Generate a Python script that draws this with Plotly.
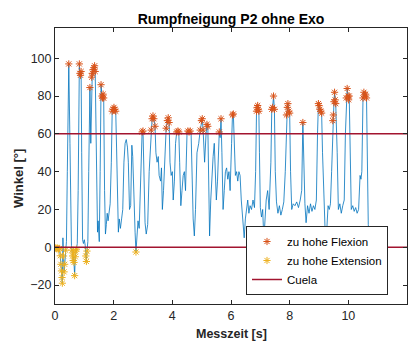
import plotly.graph_objects as go

# ---- data ----
time_s = [
    0.00, 0.03, 0.06, 0.09, 0.12, 0.15, 0.18, 0.20, 0.22, 0.24, 0.25, 0.27, 0.29, 0.31, 0.33, 0.36, 0.39, 0.42,
    0.47, 0.51, 0.54, 0.56, 0.58, 0.60, 0.62, 0.63, 0.65, 0.67, 0.69, 0.71, 0.73, 0.76, 0.79, 0.83, 0.85, 0.87,
    0.89, 0.91, 0.94, 0.97, 1.00, 1.03, 1.05, 1.07, 1.09, 1.12, 1.15, 1.19, 1.22, 1.25, 1.27, 1.30, 1.33, 1.35,
    1.37, 1.40, 1.42, 1.45, 1.47, 1.49, 1.51, 1.54, 1.57, 1.60, 1.62, 1.64, 1.66, 1.69, 1.72, 1.75, 1.78, 1.81,
    1.84, 1.88, 1.92, 1.95, 1.98, 2.01, 2.04, 2.07, 2.10, 2.13, 2.16, 2.19, 2.23, 2.27, 2.31, 2.35, 2.39, 2.43,
    2.47, 2.50, 2.54, 2.58, 2.62, 2.65, 2.69, 2.73, 2.76, 2.79, 2.83, 2.87, 2.92, 2.97, 3.00, 3.03, 3.07, 3.11,
    3.16, 3.21, 3.28, 3.31, 3.34, 3.37, 3.41, 3.44, 3.48, 3.52, 3.55, 3.60, 3.63, 3.66, 3.70, 3.75, 3.79, 3.83,
    3.86, 3.89, 3.92, 3.96, 4.00, 4.03, 4.07, 4.11, 4.15, 4.19, 4.22, 4.25, 4.29, 4.33, 4.37, 4.41, 4.45, 4.50,
    4.53, 4.57, 4.61, 4.64, 4.67, 4.71, 4.75, 4.79, 4.84, 4.90, 4.95, 4.99, 5.02, 5.05, 5.10, 5.15, 5.18, 5.21,
    5.24, 5.27, 5.31, 5.35, 5.39, 5.43, 5.46, 5.50, 5.54, 5.60, 5.63, 5.66, 5.69, 5.73, 5.77, 5.81, 5.85, 5.89,
    5.93, 5.97, 6.02, 6.05, 6.08, 6.11, 6.15, 6.19, 6.23, 6.27, 6.31, 6.35, 6.40, 6.45, 6.49, 6.53, 6.57, 6.61,
    6.65, 6.70, 6.75, 6.80, 6.84, 6.87, 6.89, 6.91, 6.93, 6.95, 6.97, 7.00, 7.04, 7.08, 7.12, 7.16, 7.20, 7.25,
    7.30, 7.36, 7.39, 7.42, 7.45, 7.48, 7.51, 7.55, 7.60, 7.65, 7.70, 7.75, 7.80, 7.85, 7.89, 7.92, 7.94, 7.97,
    8.00, 8.03, 8.07, 8.12, 8.18, 8.24, 8.30, 8.36, 8.41, 8.45, 8.48, 8.52, 8.56, 8.61, 8.66, 8.71, 8.76, 8.81,
    8.86, 8.91, 8.95, 8.98, 9.00, 9.03, 9.06, 9.09, 9.12, 9.17, 9.21, 9.24, 9.27, 9.31, 9.35, 9.39, 9.43, 9.47,
    9.49, 9.51, 9.53, 9.55, 9.57, 9.62, 9.66, 9.71, 9.76, 9.81, 9.86, 9.90, 9.93, 9.96, 9.99, 10.01, 10.03,
    10.06, 10.10, 10.15, 10.20, 10.25, 10.30, 10.35, 10.40, 10.43, 10.46, 10.50, 10.53, 10.56, 10.59, 10.62,
    10.65, 10.68, 10.71,
]
angle_deg = [
    -0.5, -0.3, -0.8, -0.4, -1.0, -0.6, -4.5, -9, -12.5, -16, -19, 5, -4.6, -13, -9, -1.5, 3, 40,
    97, 55, 4, 1, -1.5, -4.6, -7, -3, -8, -15, -5, -2, -1, 2, 30, 97, 92, 91,
    93, 50, 4, 2, 4, 1, -4.6, -7.5, -2, 3, 40, 84.5, 55, 90, 92, 94, 95, 96,
    93, 50, 15, 8, 14, 10, 3, 40, 86, 80, 79, 81, 79, 30, 7, 12, 18, 14,
    20, 23, 45, 72, 73, 74, 73, 72, 52, 20, 8, 15, 10, 15, 20, 45, 55, 57,
    53, 45, 20, 22, 54, 48, 21, 8, -2.5, 8, 14, 10, 40, 61, 61.5, 45, 13, 7,
    12, 40, 62, 68, 69.5, 68, 64, 50, 45, 48, 38, 35, 42, 20, 30, 55, 63, 67,
    68.5, 66, 45, 38, 40, 25, 35, 55, 61, 61.5, 61, 45, 22, 30, 38, 40, 30, 60,
    61.5, 61, 61.5, 60, 40, 15, 6, 20, 50, 55, 62, 67, 68, 62, 45, 60, 65, 64,
    30, 6, 25, 40, 48, 55, 40, 25, 35, 61, 58, 68, 50, 20, 30, 40, 42, 36,
    40, 30, 55, 70, 70.5, 50, 38, 40, 35, 40, 38, 25, 15, 5, 15, 20, 25, 18,
    22, 20, 25, 21, 40, 72, 74, 75, 73, 72, 50, 21, 16, 20, 4, 18, 25, 30,
    20, 45, 73, 74, 80, 73, 40, 24, 18, 22, 17, 20, 24, 40, 70, 74, 76, 72,
    71, 40, 20, 23, 22, 24, 21, 25, 30, 66, 40, 23, 13, 22, 18, 23, 19, 22,
    20, 25, 60, 76, 75, 73, 72, 71, 50, 20, 8, 2, 12, 22, 20, 23, 40, 67,
    70, 77, 82, 78, 76, 50, 20, 23, 18, 22, 25, 60, 79, 84, 80, 78, 80,
    40, 20, 22, 19, 21, 18, 20, 38, 36, 40, 79, 82, 80, 81, 79,
    30, 12, 7,
]
cuela_levels = [0, 60]
flex_threshold = 60
ext_threshold = 0
x_ticks = [0, 2, 4, 6, 8, 10, 12]
y_ticks = [-20, 0, 20, 40, 60, 80, 100]
x_range = [0, 12]
y_range = [-30, 116]

flex_t = [t for t, v in zip(time_s, angle_deg) if v > flex_threshold]
flex_v = [v for v in angle_deg if v > flex_threshold]
ext_t = [t for t, v in zip(time_s, angle_deg) if v < ext_threshold]
ext_v = [v for v in angle_deg if v < ext_threshold]

cuela_x, cuela_y = [], []
for lvl in cuela_levels:
    cuela_x += [x_range[0], x_range[1], None]
    cuela_y += [lvl, lvl, None]

FONT = "Liberation Sans, Arial, Helvetica, sans-serif"
AX = "#262626"

fig = go.Figure()
fig.add_trace(go.Scatter(x=time_s, y=angle_deg, mode="lines",
                         line=dict(color="#0072BD", width=0.8), showlegend=False,
                         hoverinfo="skip"))
fig.add_trace(go.Scatter(x=flex_t, y=flex_v, mode="markers", name="zu hohe Flexion",
                         marker=dict(symbol="asterisk-open", size=6, color="#D95319",
                                     line=dict(color="#D95319", width=1))))
fig.add_trace(go.Scatter(x=ext_t, y=ext_v, mode="markers", name="zu hohe Extension",
                         marker=dict(symbol="asterisk-open", size=6, color="#EDB120",
                                     line=dict(color="#EDB120", width=1))))
fig.add_trace(go.Scatter(x=cuela_x, y=cuela_y, mode="lines", name="Cuela",
                         line=dict(color="#A2142F", width=1.5)))

axis_common = dict(showline=True, linecolor=AX, linewidth=1, mirror="ticks",
                   ticks="inside", ticklen=4, tickcolor=AX, tickwidth=1,
                   showgrid=False, zeroline=False,
                   tickfont=dict(family=FONT, size=12.5, color=AX))

fig.update_layout(
    width=411, height=343, autosize=False,
    margin=dict(l=55, r=4, t=28, b=39, pad=0),
    paper_bgcolor="white", plot_bgcolor="white",
    font=dict(family=FONT, color=AX),
    title=dict(text="Rumpfneigung P2 ohne Exo", x=(55 + 407) / 2 / 411, xanchor="center",
               y=1 - 19 / 343, yanchor="middle", yref="container",
               font=dict(family=FONT, size=14, color="black", weight="bold")),
    xaxis=dict(range=x_range, tickvals=x_ticks, **axis_common),
    yaxis=dict(range=y_range, tickvals=y_ticks, **axis_common),
    legend=dict(x=(388 - 55) / 352, y=(304 - 295) / 276, xanchor="right", yanchor="bottom",
                bgcolor="white", bordercolor="#262626", borderwidth=1,
                font=dict(family=FONT, size=11.5, color="black"), tracegroupgap=0,
                itemwidth=30),
    annotations=[
        dict(text="Messzeit [s]", x=0.5, y=(304 - 334) / 276, xref="paper", yref="paper",
             xanchor="center", yanchor="middle", showarrow=False,
             font=dict(family=FONT, size=12.5, color=AX, weight="bold")),
        dict(text="Winkel [°]", x=(18 - 55) / 352, y=(304 - 179) / 276, xref="paper", yref="paper",
             xanchor="center", yanchor="middle", showarrow=False, textangle=-90,
             font=dict(family=FONT, size=13, color=AX, weight="bold")),
    ],
)

fig.write_html("out.html", config={"displayModeBar": False},
               post_script="document.body.style.margin='0';document.body.style.padding='0';")
